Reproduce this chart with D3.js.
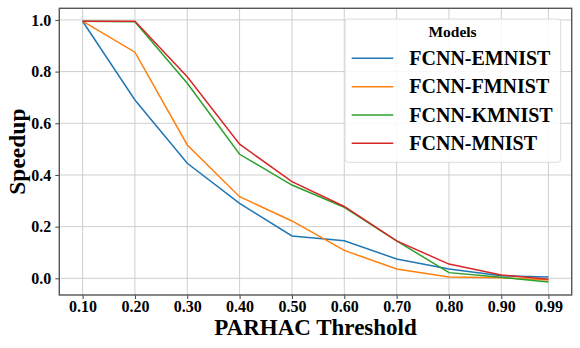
<!DOCTYPE html>
<html><head><meta charset="utf-8">
<script src="https://cdn.jsdelivr.net/npm/d3@7"></script>
<style>body{margin:0;background:#fff}svg{display:block}</style>
</head><body>
<svg id="c" width="580" height="348"></svg>
<script>
const thresholds = [0.10,0.20,0.30,0.40,0.50,0.60,0.70,0.80,0.90,0.99];
const tickLabels = ["0.10","0.20","0.30","0.40","0.50","0.60","0.70","0.80","0.90","0.99"];
const seriesNames = ["FCNN-EMNIST","FCNN-FMNIST","FCNN-KMNIST","FCNN-MNIST"];
const colors = ["#1f77b4","#ff7f0e","#2ca02c","#d62728"];
const emnist = [0.995,0.690,0.445,0.290,0.164,0.145,0.075,0.036,0.010,0.005];
const fmnist = [0.995,0.875,0.516,0.316,0.222,0.108,0.036,0.005,0.002,-0.007];
const kmnist = [0.995,0.993,0.755,0.480,0.361,0.275,0.145,0.022,0.004,-0.014];
const mnist  = [0.995,0.995,0.780,0.519,0.374,0.278,0.145,0.055,0.013,-0.004];
const yTicks = [0.0,0.2,0.4,0.6,0.8,1.0];
const series = [emnist,fmnist,kmnist,mnist];

const svg = d3.select("#c");
const L=59.3,R=571.7,T=8.3,B=295;
const x = d3.scaleLinear().domain([0.0555,1.0345]).range([L,R]);
const y = d3.scaleLinear().domain([-0.0646,1.045]).range([B,T]);
const font = "'Liberation Serif','Times New Roman',serif";

// grid
const g = svg.append("g");
g.selectAll(".vg").data(thresholds).join("line")
  .attr("x1",d=>x(d)).attr("x2",d=>x(d)).attr("y1",T).attr("y2",B)
  .attr("stroke","#cfcfcf").attr("stroke-width",1);
g.selectAll(".hg").data(yTicks).join("line")
  .attr("y1",d=>y(d)).attr("y2",d=>y(d)).attr("x1",L).attr("x2",R)
  .attr("stroke","#cfcfcf").attr("stroke-width",1);

// lines
const line = d3.line().x((d,i)=>x(thresholds[i])).y(d=>y(d));
series.forEach((s,k)=>{
  svg.append("path").datum(s).attr("d",line).attr("fill","none")
    .attr("stroke",colors[k]).attr("stroke-width",1.5);
});

// axes
const xAxis = d3.axisBottom(x).tickValues(thresholds).tickFormat((d,i)=>tickLabels[i]).tickSize(4).tickPadding(1.5);
const ax = svg.append("g").attr("transform",`translate(0,${B})`).call(xAxis);
ax.select(".domain").remove();
ax.selectAll("line").attr("stroke","#444");
ax.selectAll("text").attr("font-family",font).attr("font-weight","bold").attr("font-size",16).attr("fill","#000");
const yAxis = d3.axisLeft(y).tickValues(yTicks).tickFormat(d3.format(".1f")).tickSize(4).tickPadding(4);
const ay = svg.append("g").attr("transform",`translate(${L},0)`).call(yAxis);
ay.select(".domain").remove();
ay.selectAll("line").attr("stroke","#444");
ay.selectAll("text").attr("font-family",font).attr("font-weight","bold").attr("font-size",16).attr("fill","#000");

// frame
svg.append("rect").attr("x",L).attr("y",T).attr("width",R-L).attr("height",B-T)
  .attr("fill","none").attr("stroke","#555").attr("stroke-width",1.4);

// titles
svg.append("text").attr("x",(L+R)/2).attr("y",334.5).attr("text-anchor","middle")
  .attr("font-family",font).attr("font-weight","bold").attr("font-size",23).text("PARHAC Threshold");
svg.append("text").attr("transform",`translate(25,${(T+B)/2}) rotate(-90)`).attr("text-anchor","middle")
  .attr("font-family",font).attr("font-weight","bold").attr("font-size",23.5).text("Speedup");

// legend
const lg = svg.append("g");
lg.append("rect").attr("x",345).attr("y",19).attr("width",215.7).attr("height",143.3).attr("rx",3)
  .attr("fill","rgba(255,255,255,0.85)").attr("stroke","#dcdcdc").attr("stroke-width",1);
lg.append("text").attr("x",452.5).attr("y",37).attr("text-anchor","middle")
  .attr("font-family",font).attr("font-weight","bold").attr("font-size",15.5).text("Models");
seriesNames.forEach((n,i)=>{
  const yy = 58.3 + i*28.33;
  lg.append("line").attr("x1",351.7).attr("x2",393.3).attr("y1",yy).attr("y2",yy)
    .attr("stroke",colors[i]).attr("stroke-width",1.5);
  lg.append("text").attr("x",409.3).attr("y",yy+6.8)
    .attr("font-family",font).attr("font-weight","bold").attr("font-size",20).text(n);
});
</script>
</body></html>
